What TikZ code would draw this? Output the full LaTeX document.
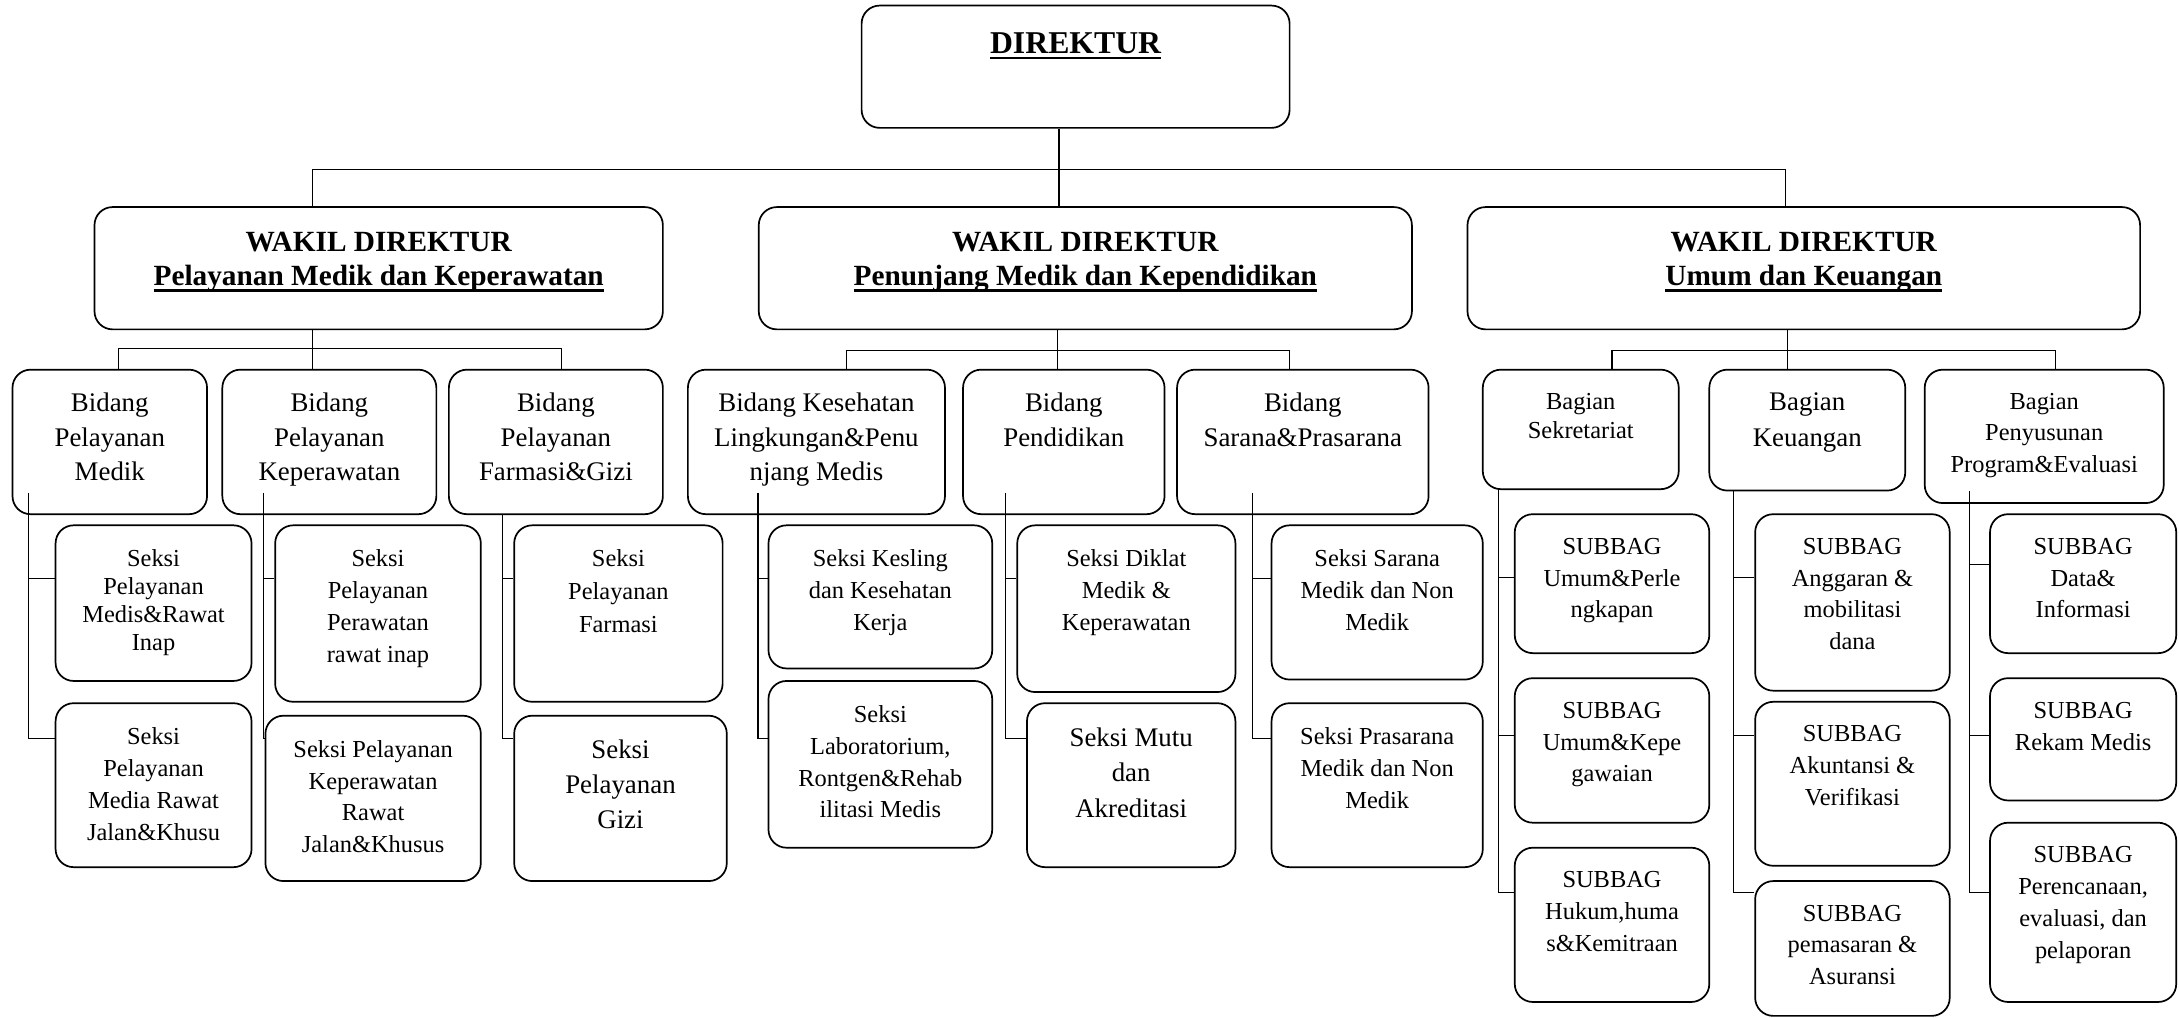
\documentclass[tikz,border=0pt]{standalone}
\usepackage{fontspec}
\setmainfont{Liberation Serif}
\usetikzlibrary{fit}

% thick underline as in the printed chart
\newcommand{\thickul}[1]{\setbox0\hbox{#1}\hbox{\rlap{\vrule height -1.4pt depth 2.4pt width \wd0}\box0}}

\begin{document}
\begin{tikzpicture}[x=0.2mm, y=-0.2mm,
  box/.style={draw, rounded corners=2.6mm, line width=0.7pt, inner sep=0pt},
  link/.style={line width=0.5pt},
  txt/.style={anchor=north, align=center, inner sep=0pt, font=\fontsize{10}{13}\selectfont},
  txtb/.style={txt, font=\fontsize{11}{14.2}\selectfont},
  head/.style={txt, font=\fontsize{12}{14.2}\selectfont\bfseries}]
  \useasboundingbox (0,0) rectangle (1568,732);

  % top levels
  \node[box, fit={(620,4) (928,92)}] (dir) {};
  \node[head, font=\fontsize{13}{15}\selectfont\bfseries] (dirl) at ([yshift=-3.9mm]dir.north) {\thickul{DIREKTUR}};
  \node[box, fit={(68,149) (477,237)}] (w1) {};
  \node[box, fit={(546,149) (1016,237)}] (w2) {};
  \node[box, fit={(1056,149) (1540,237)}] (w3) {};
  \node[head] (w1l) at ([yshift=-3.6mm]w1.north) {WAKIL DIREKTUR\\\thickul{Pelayanan Medik dan Keperawatan}};
  \node[head] (w2l) at ([yshift=-3.6mm]w2.north) {WAKIL DIREKTUR\\\thickul{Penunjang Medik dan Kependidikan}};
  \node[head] (w3l) at ([yshift=-3.6mm]w3.north) {WAKIL DIREKTUR\\\thickul{Umum dan Keuangan}};

  % bidang / bagian
  \node[box, fit={(9,266) (149,370)}] (b1) {};
  \node[box, fit={(160,266) (314,370)}] (b2) {};
  \node[box, fit={(323,266) (477,370)}] (b3) {};
  \node[box, fit={(495,266) (680,370)}] (b4) {};
  \node[box, fit={(693,266) (838,370)}] (b5) {};
  \node[box, fit={(847,266) (1028,370)}] (b6) {};
  \node[box, fit={(1067,266) (1208,352)}] (g1) {};
  \node[box, fit={(1230,266) (1371,353)}] (g2) {};
  \node[box, fit={(1385,266) (1557,362)}] (g3) {};
  \node[txtb] (b1l) at ([yshift=-3.4mm]b1.north) {Bidang\\Pelayanan\\Medik};
  \node[txtb] (b2l) at ([yshift=-3.4mm]b2.north) {Bidang\\Pelayanan\\Keperawatan};
  \node[txtb] (b3l) at ([yshift=-3.4mm]b3.north) {Bidang\\Pelayanan\\Farmasi\&Gizi};
  \node[txtb] (b4l) at ([yshift=-3.4mm]b4.north) {Bidang Kesehatan\\Lingkungan\&Penu\\njang Medis};
  \node[txtb] (b5l) at ([yshift=-3.4mm]b5.north) {Bidang\\Pendidikan};
  \node[txtb] (b6l) at ([yshift=-3.4mm]b6.north) {Bidang\\Sarana\&Prasarana};
  \node[txt, font=\fontsize{10}{12.2}\selectfont] (g1l) at ([yshift=-3.4mm]g1.north) {Bagian\\Sekretariat};
  \node[txtb, font=\fontsize{11}{14.8}\selectfont] (g2l) at ([yshift=-3.4mm]g2.north) {Bagian\\Keuangan};
  \node[txt, font=\fontsize{10}{12.9}\selectfont] (g3l) at ([yshift=-3.4mm]g3.north) {Bagian\\Penyusunan\\Program\&Evaluasi};

  % seksi
  \node[box, fit={(40,378) (181,490)}] (s1a) {};
  \node[box, fit={(40,506) (181,624)}] (s1b) {};
  \node[box, fit={(198,378) (346,505)}] (s2a) {};
  \node[box, fit={(191,515) (346,634)}] (s2b) {};
  \node[box, fit={(370,378) (520,505)}] (s3a) {};
  \node[box, fit={(370,515) (523,634)}] (s3b) {};
  \node[box, fit={(553,378) (714,481)}] (s4a) {};
  \node[box, fit={(553,490) (714,610)}] (s4b) {};
  \node[box, fit={(732,378) (889,498)}] (s5a) {};
  \node[box, fit={(739,506) (889,624)}] (s5b) {};
  \node[box, fit={(915,378) (1067,489)}] (s6a) {};
  \node[box, fit={(915,506) (1067,624)}] (s6b) {};
  \node[txt, font=\fontsize{10}{11.4}\selectfont] (s1al) at ([yshift=-3.6mm]s1a.north) {Seksi\\Pelayanan\\Medis\&Rawat\\Inap};
  \node[txt] (s1bl) at ([yshift=-3.6mm]s1b.north) {Seksi\\Pelayanan\\Media Rawat\\Jalan\&Khusu};
  \node[txt] (s2al) at ([yshift=-3.6mm]s2a.north) {Seksi\\Pelayanan\\Perawatan\\rawat inap};
  \node[txt] (s2bl) at ([yshift=-3.6mm]s2b.north) {Seksi Pelayanan\\Keperawatan\\Rawat\\Jalan\&Khusus};
  \node[txt, font=\fontsize{10}{13.5}\selectfont] (s3al) at ([yshift=-3.6mm]s3a.north) {Seksi\\Pelayanan\\Farmasi};
  \node[txtb, font=\fontsize{11}{14.3}\selectfont] (s3bl) at ([yshift=-3.6mm]s3b.north) {Seksi\\Pelayanan\\Gizi};
  \node[txt] (s4al) at ([yshift=-3.6mm]s4a.north) {Seksi Kesling\\dan Kesehatan\\Kerja};
  \node[txt] (s4bl) at ([yshift=-3.6mm]s4b.north) {Seksi\\Laboratorium,\\Rontgen\&Rehab\\ilitasi Medis};
  \node[txt] (s5al) at ([yshift=-3.6mm]s5a.north) {Seksi Diklat\\Medik \&\\Keperawatan};
  \node[txtb, font=\fontsize{11}{14.5}\selectfont] (s5bl) at ([yshift=-3.6mm]s5b.north) {Seksi Mutu\\dan\\Akreditasi};
  \node[txt] (s6al) at ([yshift=-3.6mm]s6a.north) {Seksi Sarana\\Medik dan Non\\Medik};
  \node[txt] (s6bl) at ([yshift=-3.6mm]s6b.north) {Seksi Prasarana\\Medik dan Non\\Medik};

  % subbag
  \node[box, fit={(1090,370) (1230,470)}] (u1a) {};
  \node[box, fit={(1090,488) (1230,592)}] (u1b) {};
  \node[box, fit={(1090,610) (1230,721)}] (u1c) {};
  \node[box, fit={(1263,370) (1403,497)}] (u2a) {};
  \node[box, fit={(1263,505) (1403,623)}] (u2b) {};
  \node[box, fit={(1263,634) (1403,731)}] (u2c) {};
  \node[box, fit={(1432,370) (1566,470)}] (u3a) {};
  \node[box, fit={(1432,488) (1566,576)}] (u3b) {};
  \node[box, fit={(1432,592) (1566,721)}] (u3c) {};
  \node[txt] (u1al) at ([yshift=-3.5mm]u1a.north) {SUBBAG\\Umum\&Perle\\ngkapan};
  \node[txt] (u1bl) at ([yshift=-3.5mm]u1b.north) {SUBBAG\\Umum\&Kepe\\gawaian};
  \node[txt] (u1cl) at ([yshift=-3.5mm]u1c.north) {SUBBAG\\Hukum,huma\\s\&Kemitraan};
  \node[txt] (u2al) at ([yshift=-3.5mm]u2a.north) {SUBBAG\\Anggaran \&\\mobilitasi\\dana};
  \node[txt] (u2bl) at ([yshift=-3.5mm]u2b.north) {SUBBAG\\Akuntansi \&\\Verifikasi};
  \node[txt] (u2cl) at ([yshift=-3.5mm]u2c.north) {SUBBAG\\pemasaran \&\\Asuransi};
  \node[txt] (u3al) at ([yshift=-3.5mm]u3a.north) {SUBBAG\\Data\&\\Informasi};
  \node[txt] (u3bl) at ([yshift=-3.5mm]u3b.north) {SUBBAG\\Rekam Medis};
  \node[txt] (u3cl) at ([yshift=-3.5mm]u3c.north) {SUBBAG\\Perencanaan,\\evaluasi, dan\\pelaporan};

  % direktur -> wakil
  \coordinate (h0) at (762,122);
  \coordinate (h0a) at (225,122);
  \coordinate (h0c) at (1285,122);
  \draw[link] (dir.south -| h0) -- (h0);
  \draw[link] (w1.north -| h0a) -- (h0a) -- (h0c) -- (w3.north -| h0c);
  \draw[link] (h0) -- (w2.north -| h0);

  % wakil -> bidang
  \coordinate (h1) at (225,251);
  \coordinate (h2) at (761,252);
  \coordinate (h3) at (1286,252);
  \draw[link] (w1.south -| h1) -- (h1);
  \draw[link] ([xshift=1.2mm]b1.north) |- (h1) -| ([xshift=0.8mm]b3.north);
  \draw[link] (h1) -- (b2.north -| h1);
  \draw[link] (w2.south -| h2) -- (h2);
  \draw[link] ([xshift=4.3mm]b4.north) |- (h2) -| ([xshift=-1.9mm]b6.north);
  \draw[link] (h2) -- (b5.north -| h2);
  \draw[link] (w3.south -| h3) -- (h3);
  \draw[link] ([xshift=4.5mm]g1.north) |- (h3) -| ([xshift=1.6mm]g3.north);
  \draw[link] (h3) -- (g2.north -| h3);

  % bidang -> seksi
  \coordinate (b1s) at ([xshift=2.4mm,yshift=3.2mm]b1.south west);
  \coordinate (b2s) at ([xshift=6mm,yshift=3.2mm]b2.south west);
  \coordinate (b3s) at ([xshift=7.8mm]b3.south west);
  \coordinate (b4s) at ([xshift=10.2mm,yshift=3.2mm]b4.south west);
  \coordinate (b5s) at ([xshift=6.2mm,yshift=3.2mm]b5.south west);
  \coordinate (b6s) at ([xshift=11mm,yshift=3.2mm]b6.south west);
  \draw[link] (b1s) |- ([yshift=-7.8mm]s1a.north west);
  \draw[link] (b1s) |- ([yshift=-5.2mm]s1b.north west);
  \draw[link] (b2s) |- ([yshift=-7.8mm]s2a.north west);
  \draw[link] (b2s) |- ([yshift=-3.4mm]s2b.north west);
  \draw[link] (b3s) |- ([yshift=-7.8mm]s3a.north west);
  \draw[link] (b3s) |- ([yshift=-3.4mm]s3b.north west);
  \draw[link] (b4s) |- ([yshift=-7.8mm]s4a.north west);
  \draw[link] (b4s) |- ([yshift=-8.4mm]s4b.north west);
  \draw[link] (b5s) |- ([yshift=-7.8mm]s5a.north west);
  \draw[link] (b5s) |- ([yshift=-5.2mm]s5b.north west);
  \draw[link] (b6s) |- ([yshift=-7.8mm]s6a.north west);
  \draw[link] (b6s) |- ([yshift=-5.2mm]s6b.north west);

  % bagian -> subbag
  \coordinate (g1s) at ([xshift=2.4mm]g1.south west);
  \coordinate (g2s) at ([xshift=3.6mm]g2.south west);
  \coordinate (g3s) at ([xshift=6.6mm,yshift=1.8mm]g3.south west);
  \draw[link] (g1s) |- ([yshift=-9.2mm]u1a.north west);
  \draw[link] (g1s) |- ([yshift=-8.4mm]u1b.north west);
  \draw[link] (g1s) |- ([yshift=-6.6mm]u1c.north west);
  \draw[link] (g2s) |- ([yshift=-9.2mm]u2a.north west);
  \draw[link] (g2s) |- ([yshift=-5mm]u2b.north west);
  \draw[link] (g2s) |- ([yshift=-1.8mm]u2c.north west);
  \draw[link] (g3s) |- ([yshift=-7.4mm]u3a.north west);
  \draw[link] (g3s) |- ([yshift=-8.4mm]u3b.north west);
  \draw[link] (g3s) |- ([yshift=-10.2mm]u3c.north west);
\end{tikzpicture}
\end{document}
